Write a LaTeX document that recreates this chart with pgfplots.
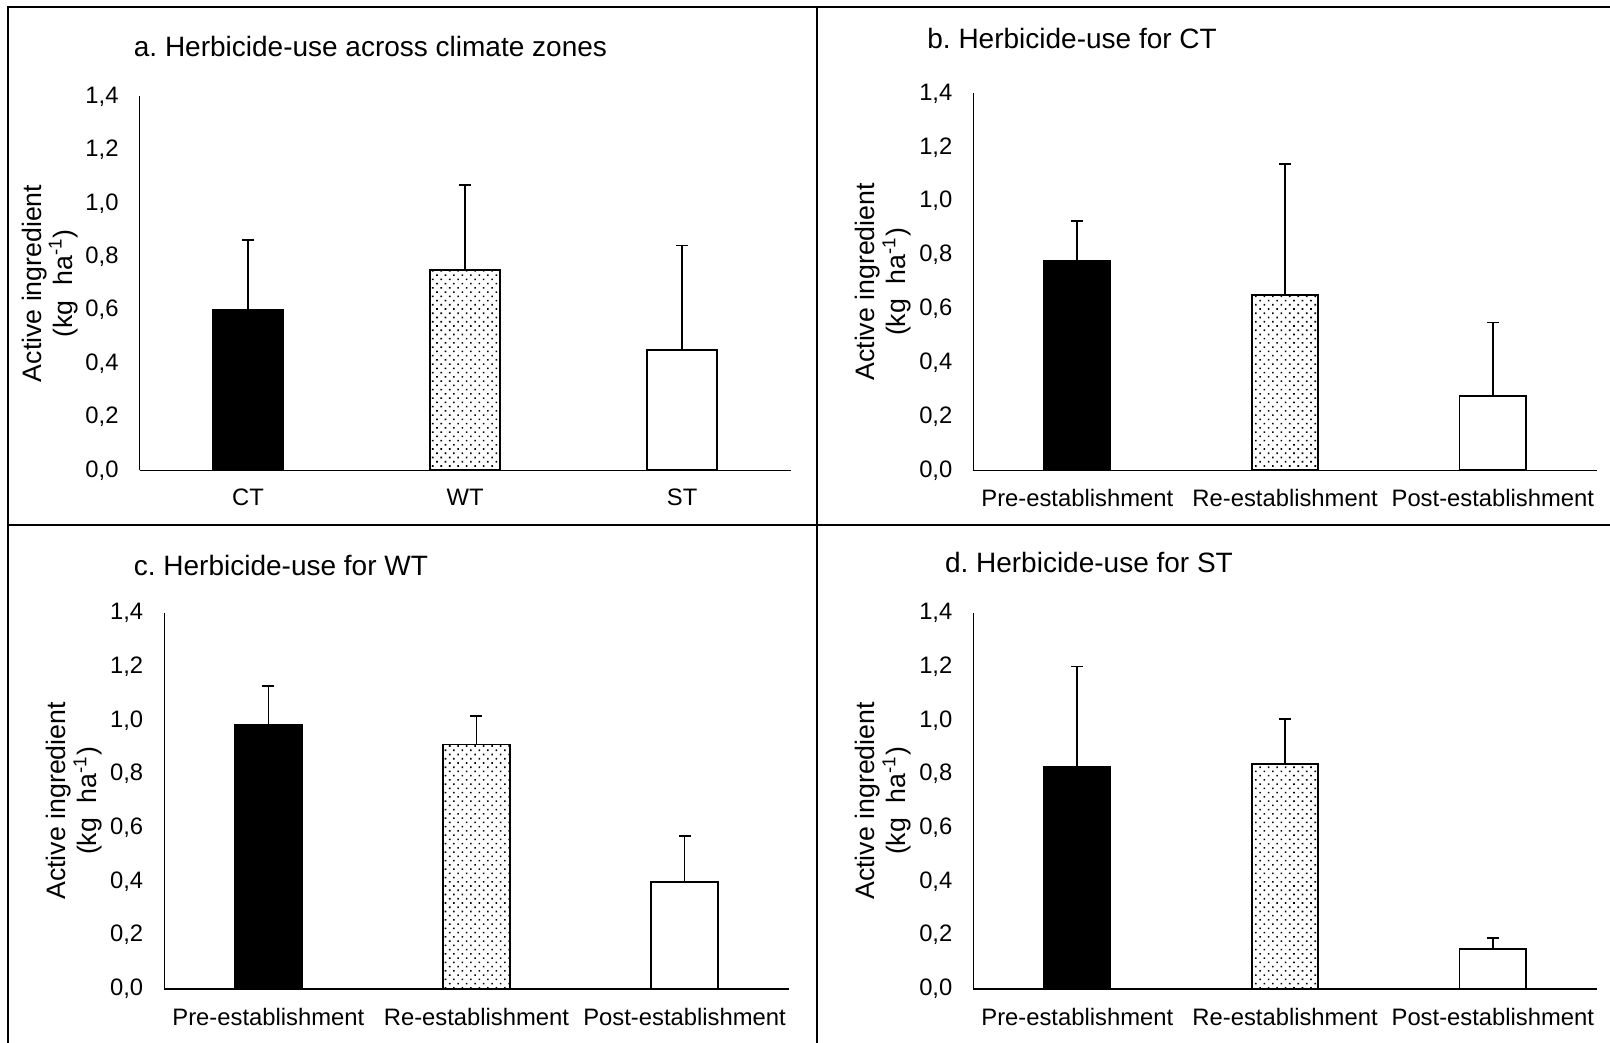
\documentclass[border=0pt]{standalone}
\usepackage{pgfplots}
\pgfplotsset{compat=1.18}
\usepackage{fontspec}
\setmainfont{Liberation Sans}
\usetikzlibrary{patterns.meta}
\frenchspacing
\pgfplotsset{
  herb/.style={
    scale only axis,
    ybar, bar shift=0pt, bar width=0.32,
    xmin=-0.5, xmax=2.5, ymin=0, ymax=1.4,
    axis x line=bottom, axis y line=left,
    axis line style={-, line width=0.75pt, black},
    major tick length=0pt,
    xtick={0,1,2},
    ytick={0,0.2,0.4,0.6,0.8,1.0,1.2,1.4},
    /pgf/number format/fixed,
    /pgf/number format/fixed zerofill,
    /pgf/number format/precision=1,
    /pgf/number format/use comma,
    /pgf/number format/assume math mode=true,
    tick label style={font=\fontsize{11.9}{13}\selectfont},
    yticklabel style={anchor=east, xshift=-7pt},
    xticklabel style={anchor=north, yshift=-6pt},
    ylabel={Active ingredient\\(kg\ \ ha\textsuperscript{-1})},
    ylabel style={at={(axis description cs:0,0.5)}, yshift=45pt, anchor=center, align=center, font=\fontsize{13.35}{15.5}\selectfont},
    every axis plot/.append style={draw=black, line width=0.9pt},
    error bars/y dir=plus,
    error bars/y explicit,
    error bars/error bar style={line width=0.85pt, black},
    error bars/error mark options={rotate=90, mark size=3pt, line width=0.85pt, black},
  },
  b1/.style={fill=black},
  b2/.style={fill=white, postaction={pattern={Dots[distance=3pt, angle=45, radius=0.55pt]}, pattern color=black}},
  b3/.style={fill=white},
}
\begin{document}
\begin{tikzpicture}
\useasboundingbox (0,0) rectangle (805pt,521.5pt);
\draw[line width=0.85pt] (4pt,0) -- (4pt,518pt) -- (805pt,518pt);
\draw[line width=0.85pt] (408.5pt,0) -- (408.5pt,518pt);
\draw[line width=0.85pt] (4pt,259pt) -- (805pt,259pt);
\tikzset{ttl/.style={anchor=west, inner sep=0pt, font=\fontsize{14}{16}\selectfont}}
\node[ttl] at (66.75pt,498pt) {a. Herbicide-use across climate zones};
\node[ttl] at (463.5pt,502pt) {b. Herbicide-use for CT};
\node[ttl] at (66.75pt,238.5pt) {c. Herbicide-use for WT};
\node[ttl] at (472.3pt,240.5pt) {d. Herbicide-use for ST};

% a
\begin{axis}[herb, at={(69.8pt,286.35pt)}, anchor=south west, width=325.5pt, height=186.9pt,
  xticklabels={CT,WT,ST}]
\addplot[b1] coordinates {(0,0.60) +- (0,0.262)};
\addplot[b2] coordinates {(1,0.75) +- (0,0.319)};
\addplot[b3] coordinates {(2,0.45) +- (0,0.392)};
\end{axis}
% b
\begin{axis}[herb, at={(486.7pt,286.35pt)}, anchor=south west, width=311.65pt, height=188.45pt,
  xticklabels={Pre-establishment,Re-establishment,Post-establishment}]
\addplot[b1] coordinates {(0,0.778) +- (0,0.149)};
\addplot[b2] coordinates {(1,0.652) +- (0,0.485)};
\addplot[b3] coordinates {(2,0.275) +- (0,0.274)};
\end{axis}
% c
\begin{axis}[herb, at={(82.15pt,27.1pt)}, anchor=south west, width=312.15pt, height=187.9pt,
  xticklabels={Pre-establishment,Re-establishment,Post-establishment}]
\addplot[b1] coordinates {(0,0.983) +- (0,0.145)};
\addplot[b2] coordinates {(1,0.910) +- (0,0.107)};
\addplot[b3] coordinates {(2,0.398) +- (0,0.172)};
\end{axis}
% d
\begin{axis}[herb, at={(486.7pt,27.1pt)}, anchor=south west, width=311.65pt, height=187.9pt,
  xticklabels={Pre-establishment,Re-establishment,Post-establishment}]
\addplot[b1] coordinates {(0,0.826) +- (0,0.375)};
\addplot[b2] coordinates {(1,0.838) +- (0,0.168)};
\addplot[b3] coordinates {(2,0.148) +- (0,0.041)};
\end{axis}
\end{tikzpicture}
\end{document}
